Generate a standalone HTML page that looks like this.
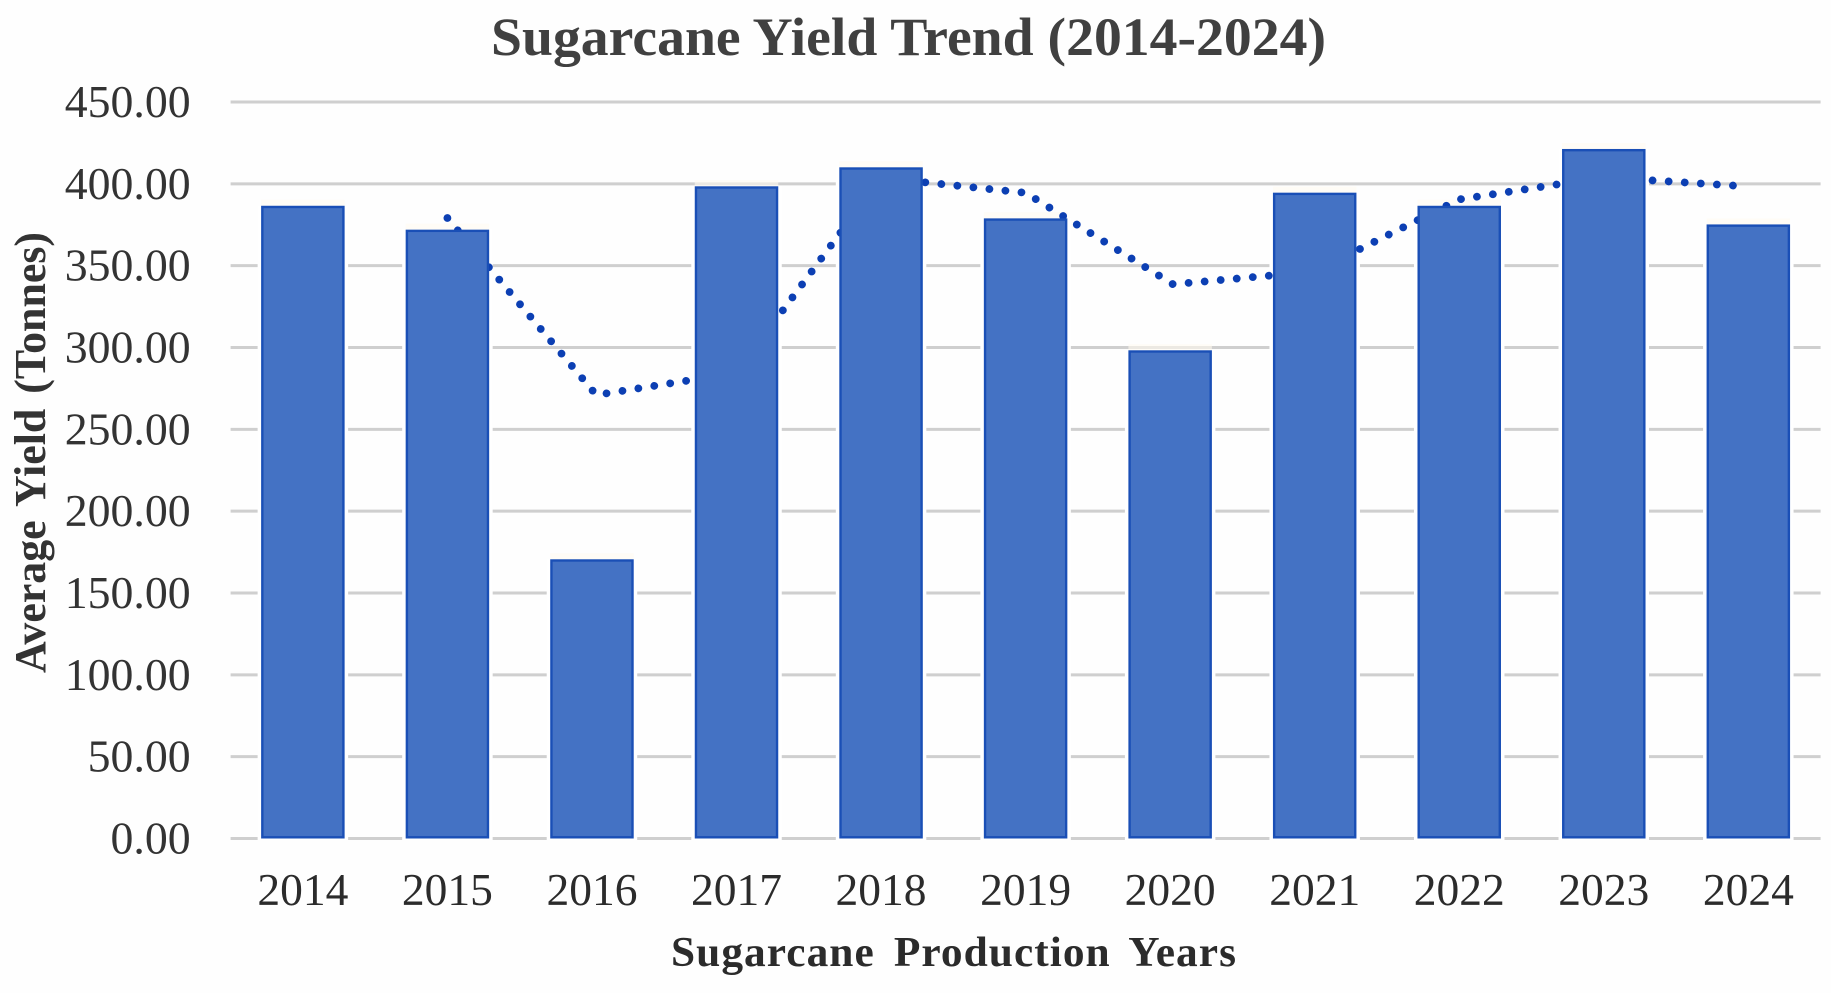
<!DOCTYPE html>
<html lang="en">
<head>
<meta charset="utf-8">
<title>Sugarcane Yield Trend (2014-2024)</title>
<style>
  html, body { margin: 0; padding: 0; background: #fefefe; }
  body { width: 1831px; height: 993px; overflow: hidden; }
  svg { display: block; }
  text { font-family: "Liberation Serif", "Times New Roman", serif; }
</style>
</head>
<body>
<svg id="chart" xmlns="http://www.w3.org/2000/svg" width="1831" height="993" viewBox="0 0 1831 993">
  <rect x="0" y="0" width="1831" height="993" fill="#fefefe"/>
  <text x="491" y="55" font-size="54" font-weight="700" fill="#404040" textLength="835" lengthAdjust="spacingAndGlyphs">Sugarcane Yield Trend (2014-2024)</text>
  <text transform="translate(45 673) rotate(-90)" x="0" y="0" font-size="44" font-weight="700" fill="#333333" word-spacing="4" textLength="441" lengthAdjust="spacingAndGlyphs">Average Yield (Tonnes)</text>
  <text x="671" y="966" font-size="42" font-weight="700" fill="#2b2b2b" letter-spacing="1" word-spacing="7" textLength="566" lengthAdjust="spacingAndGlyphs">Sugarcane Production Years</text>
  <g id="grid"></g>
  <g id="halos"></g>
  <g id="trend"></g>
  <g id="bars"></g>
  <g id="yticks"></g>
  <g id="xticks"></g>
</svg>
<script>
var categories = ["2014","2015","2016","2017","2018","2019","2020","2021","2022","2023","2024"];
var yieldValues = [386.6, 372, 170.6, 398.5, 410.1, 378.9, 298.3, 394.6, 386.6, 421.3, 375.2];
var yTickValues = [0, 50, 100, 150, 200, 250, 300, 350, 400, 450];
var yTickLabels = ["0.00","50.00","100.00","150.00","200.00","250.00","300.00","350.00","400.00","450.00"];
var trendYears = [2015, 2016.03, 2017, 2018, 2019, 2020.02, 2021, 2022, 2023, 2023.9];
var trendValues = [379.1, 271, 284.5, 403.7, 394.5, 338.6, 346.4, 390.5, 404, 398.9];

var SVG_NS = "http://www.w3.org/2000/svg";
var plotLeft = 230.6, plotRight = 1820.6, plotBottom = 838.5, plotTop = 102;
var yMax = 450;
var barWidth = 83.5;
var firstYear = 2014;

function xBand(i) {
  var step = (plotRight - plotLeft) / categories.length;
  return plotLeft + step * (i + 0.5);
}
function xYear(year) {
  return xBand(year - firstYear);
}
function yScale(v) {
  return plotBottom - (v / yMax) * (plotBottom - plotTop);
}
function make(tag, attrs) {
  var el = document.createElementNS(SVG_NS, tag);
  for (var k in attrs) { el.setAttribute(k, attrs[k]); }
  return el;
}

var gridG = document.getElementById("grid");
var haloG = document.getElementById("halos");
var trendG = document.getElementById("trend");
var barG = document.getElementById("bars");
var yG = document.getElementById("yticks");
var xG = document.getElementById("xticks");

yTickValues.forEach(function (v, i) {
  var y = yScale(v);
  var line = make("line", { x1: plotLeft, x2: plotRight, y1: y, y2: y, stroke: "#cfcfcf", "stroke-width": 3 });
  
  
  gridG.appendChild(line);

  var label = make("text", { x: 190.7, y: y + 15, "text-anchor": "end", "font-size": 45.8, fill: "#333333" });
  
  
  label.textContent = yTickLabels[i];
  yG.appendChild(label);
});

categories.forEach(function (c, i) {
  var cx = xBand(i);
  var top = yScale(yieldValues[i]);

  var halo = make("rect", { x: cx - barWidth / 2 - 3.5, y: top - 0.5, width: barWidth + 7, height: plotBottom + 2.5 - top, fill: "#ffffff" });
  
  
  haloG.appendChild(halo);

  var wash = make("rect", { x: cx - barWidth / 2, y: top - 6, width: barWidth, height: 6, fill: "#fffaf0", "fill-opacity": 0.6 });
  
  
  haloG.appendChild(wash);

  var bar = make("rect", { x: cx - barWidth / 2 + 1.2, y: top + 1.2, width: barWidth - 2.4, height: plotBottom - top - 2.4, fill: "#4472c4", stroke: "#1a4fb6", "stroke-width": 2.4 });
  
  
  barG.appendChild(bar);

  var label = make("text", { x: cx, y: 905, "text-anchor": "middle", "font-size": 45.5, fill: "#2b2b2b" });
  
  
  label.textContent = c;
  xG.appendChild(label);
});

var points = trendYears.map(function (yr, i) {
  return xYear(yr).toFixed(1) + "," + yScale(trendValues[i]).toFixed(1);
}).join(" ");
var trendLine = make("polyline", { points: points, fill: "none", stroke: "#0c3fb3", "stroke-width": 7.8, "stroke-linecap": "round", "stroke-linejoin": "round", "stroke-dasharray": "0.01 16.1" });


trendG.appendChild(trendLine);
</script>
</body>
</html>
